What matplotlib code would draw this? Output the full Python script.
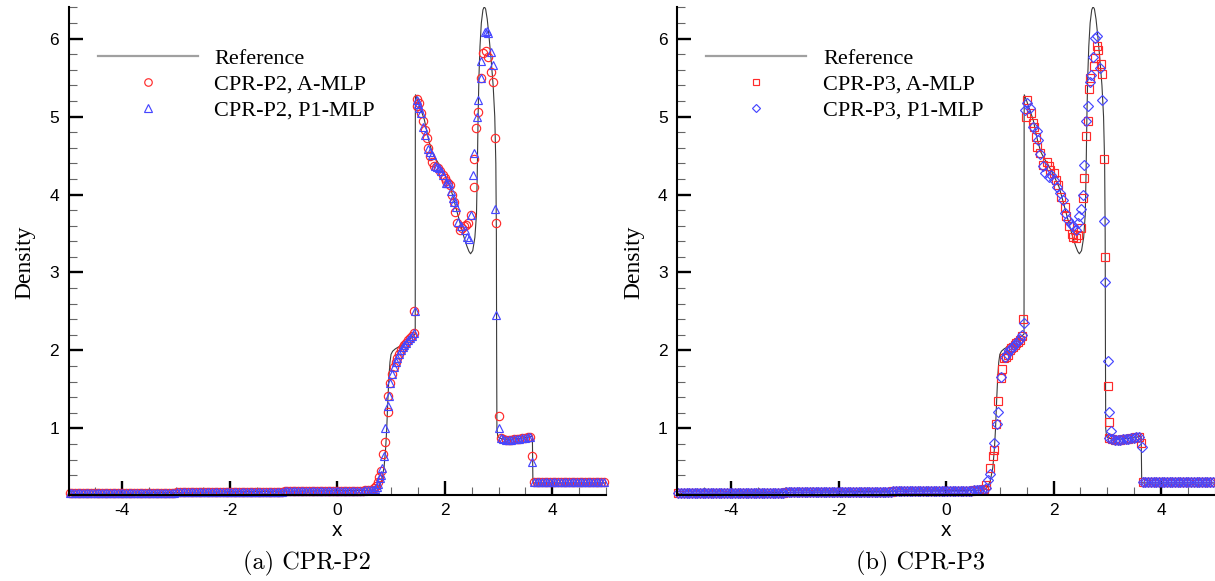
import numpy as np
import matplotlib.pyplot as plt
from matplotlib.lines import Line2D
from matplotlib.ticker import MultipleLocator

plt.rcParams['axes.unicode_minus'] = False

# reference solution (fine mesh)
ref_x = [-5.0, -4.0, -3.0, -2.0, -1.0, 0.0, 0.5, 0.62, 0.7, 0.76, 0.82, 0.87, 0.9, 0.92,
         0.94, 0.96, 0.98, 1.0, 1.03, 1.08, 1.2, 1.3, 1.4, 1.45, 1.452, 1.455, 1.5, 1.55,
         1.62, 1.7, 1.76, 1.82, 1.9, 2.0, 2.1, 2.15, 2.22, 2.29, 2.35, 2.41, 2.45, 2.48,
         2.52, 2.56, 2.59, 2.605, 2.62, 2.635, 2.655, 2.68, 2.71, 2.735, 2.76, 2.79, 2.82,
         2.86, 2.9, 2.93, 2.95, 2.96, 2.965, 2.97, 2.985, 3.02, 3.1, 3.2, 3.3, 3.4, 3.5,
         3.6, 3.63, 3.635, 3.64, 4.0, 5.0]
ref_rho = [0.165, 0.17, 0.178, 0.186, 0.194, 0.2, 0.205, 0.208, 0.215, 0.24, 0.32, 0.5, 0.75, 1.0,
           1.35, 1.65, 1.85, 1.95, 1.99, 2.02, 2.07, 2.12, 2.18, 2.21, 5.0, 5.28, 5.2, 5.1,
           4.96, 4.7, 4.55, 4.47, 4.38, 4.25, 4.1, 3.98, 3.8, 3.62, 3.47, 3.34, 3.27, 3.24,
           3.28, 3.45, 3.75, 4.3, 5.0, 5.5, 5.9, 6.2, 6.37, 6.41, 6.38, 6.25, 6.05,
           5.75, 5.4, 5.0, 4.4, 3.5, 2.0, 1.0, 0.9, 0.875, 0.862, 0.86, 0.865, 0.872, 0.88,
           0.895, 0.9, 0.6, 0.3, 0.3, 0.3]

# smooth parts where all runs sit on top of each other
left_x = [-4.98, -4.93, -4.88, -4.83, -4.78, -4.73, -4.68, -4.63, -4.58, -4.53,
          -4.48, -4.43, -4.38, -4.33, -4.28, -4.23, -4.18, -4.13, -4.08, -4.03,
          -3.98, -3.93, -3.88, -3.83, -3.78, -3.73, -3.68, -3.63, -3.58, -3.53,
          -3.48, -3.43, -3.38, -3.33, -3.28, -3.23, -3.18, -3.13, -3.08, -3.03,
          -2.98, -2.93, -2.88, -2.83, -2.78, -2.73, -2.68, -2.63, -2.58, -2.53,
          -2.48, -2.43, -2.38, -2.33, -2.28, -2.23, -2.18, -2.13, -2.08, -2.03,
          -1.98, -1.93, -1.88, -1.83, -1.78, -1.73, -1.68, -1.63, -1.58, -1.53,
          -1.48, -1.43, -1.38, -1.33, -1.28, -1.23, -1.18, -1.13, -1.08, -1.03,
          -0.98, -0.93, -0.88, -0.83, -0.78, -0.73, -0.68, -0.63, -0.58, -0.53,
          -0.48, -0.43, -0.38, -0.33, -0.28, -0.23, -0.18, -0.13, -0.08, -0.03,
          0.02, 0.07, 0.12, 0.17, 0.22, 0.27, 0.32, 0.37, 0.42, 0.47,
          0.52, 0.57, 0.62, 0.67]
left_rho = [0.165, 0.165, 0.165, 0.165, 0.165, 0.165, 0.165, 0.165, 0.165, 0.165,
            0.165, 0.165, 0.165, 0.165, 0.165, 0.165, 0.165, 0.165, 0.165, 0.165,
            0.17, 0.17, 0.17, 0.17, 0.17, 0.17, 0.17, 0.17, 0.17, 0.17,
            0.17, 0.17, 0.17, 0.17, 0.17, 0.17, 0.17, 0.17, 0.17, 0.17,
            0.18, 0.18, 0.18, 0.18, 0.18, 0.18, 0.18, 0.18, 0.18, 0.18,
            0.18, 0.18, 0.18, 0.18, 0.18, 0.18, 0.18, 0.18, 0.18, 0.18,
            0.185, 0.185, 0.185, 0.185, 0.185, 0.185, 0.185, 0.185, 0.185, 0.185,
            0.185, 0.185, 0.185, 0.185, 0.185, 0.185, 0.185, 0.185, 0.185, 0.185,
            0.19, 0.19, 0.19, 0.19, 0.19, 0.19, 0.19, 0.19, 0.19, 0.19,
            0.19, 0.19, 0.19, 0.19, 0.19, 0.19, 0.19, 0.19, 0.19, 0.19,
            0.2, 0.2, 0.2, 0.2, 0.2, 0.2, 0.2, 0.2, 0.2, 0.2,
            0.205, 0.205, 0.205, 0.205]
mid_x = [3.04, 3.09, 3.14, 3.19, 3.24, 3.29, 3.34, 3.39, 3.44, 3.49, 3.54, 3.59]
mid_rho = [0.87, 0.86, 0.855, 0.855, 0.855, 0.86, 0.86, 0.865, 0.87, 0.875, 0.885, 0.895]
right_x = [3.66, 3.71, 3.76, 3.81, 3.86, 3.91, 3.96, 4.01, 4.06, 4.11, 4.16, 4.21, 4.26, 4.31,
           4.36, 4.41, 4.46, 4.51, 4.56, 4.61, 4.66, 4.71, 4.76, 4.81, 4.86, 4.91, 4.96]
right_rho = [0.31, 0.31, 0.31, 0.31, 0.31, 0.31, 0.31, 0.31, 0.31, 0.31, 0.31, 0.31, 0.31, 0.31,
             0.31, 0.31, 0.31, 0.31, 0.31, 0.31, 0.31, 0.31, 0.31, 0.31, 0.31, 0.31, 0.31]

# CPR-P2, A-MLP
p2_amlp_x = [0.69, 0.72, 0.75, 0.78, 0.81, 0.85, 0.886, 0.94, 0.952, 0.985, 1.018, 1.05,
             1.085, 1.118, 1.15, 1.185, 1.22, 1.25, 1.285, 1.317, 1.35, 1.385, 1.418, 1.436,
             1.475, 1.487, 1.524, 1.56, 1.6, 1.63, 1.66, 1.69, 1.72, 1.76, 1.8, 1.84, 1.88,
             1.92, 1.97, 2.0, 2.03, 2.06, 2.095, 2.14, 2.165, 2.19, 2.23, 2.28, 2.32, 2.355,
             2.4, 2.44, 2.48, 2.545, 2.55, 2.59, 2.62, 2.67, 2.72, 2.77, 2.8, 2.86, 2.89,
             2.935, 2.955, 3.0, 3.626]
p2_amlp_rho = [0.23, 0.26, 0.31, 0.37, 0.45, 0.67, 0.83, 1.21, 1.41, 1.58, 1.7, 1.79,
               1.85, 1.9, 1.95, 2.0, 2.04, 2.07, 2.1, 2.13, 2.16, 2.19, 2.22, 2.51,
               5.13, 5.22, 5.18, 5.05, 4.94, 4.83, 4.72, 4.6, 4.49, 4.42, 4.36, 4.35, 4.34,
               4.3, 4.25, 4.21, 4.17, 4.15, 4.12, 4.0, 3.9, 3.78, 3.63, 3.55, 3.57, 3.59,
               3.61, 3.63, 3.74, 4.1, 4.45, 4.86, 5.06, 5.49, 5.81, 5.84, 5.76, 5.57, 5.44,
               4.72, 3.64, 1.16, 0.65]

# CPR-P2, P1-MLP
p2_p1_x = [0.7, 0.73, 0.76, 0.79, 0.806, 0.839, 0.865, 0.886, 0.94, 0.955, 0.985, 1.018,
           1.05, 1.085, 1.118, 1.15, 1.185, 1.22, 1.25, 1.285, 1.317, 1.35, 1.385, 1.418,
           1.44, 1.475, 1.5, 1.524, 1.55, 1.6, 1.64, 1.69, 1.72, 1.755, 1.815, 1.855, 1.896,
           1.93, 1.96, 2.02, 2.05, 2.08, 2.11, 2.145, 2.18, 2.21, 2.25, 2.31, 2.37, 2.42,
           2.45, 2.48, 2.53, 2.54, 2.6, 2.614, 2.666, 2.68, 2.746, 2.78, 2.81, 2.865, 2.893,
           2.932, 2.945, 3.0, 3.626]
p2_p1_rho = [0.22, 0.25, 0.29, 0.36, 0.4, 0.49, 0.65, 1.0, 1.29, 1.41, 1.58, 1.7,
             1.79, 1.85, 1.9, 1.95, 2.0, 2.04, 2.07, 2.1, 2.13, 2.16, 2.19, 2.22,
             2.51, 5.21, 5.16, 5.11, 5.05, 4.87, 4.77, 4.59, 4.55, 4.51, 4.37, 4.35, 4.34,
             4.3, 4.25, 4.15, 4.15, 4.15, 4.05, 3.95, 3.9, 3.84, 3.65, 3.6, 3.55, 3.46,
             3.43, 3.74, 4.25, 4.53, 5.0, 5.21, 5.49, 5.71, 6.09, 6.1, 6.07, 5.83, 5.66,
             3.81, 2.45, 1.0, 0.57]

# CPR-P3, A-MLP
p3_amlp_x = [0.7, 0.74, 0.816, 0.87, 0.883, 0.936, 0.962, 1.015, 1.048, 1.08, 1.115, 1.147,
             1.18, 1.215, 1.247, 1.28, 1.31, 1.345, 1.378, 1.41, 1.425,
             1.478, 1.51, 1.576, 1.61, 1.643, 1.676, 1.695, 1.74, 1.807, 1.874, 1.907, 1.94,
             2.005, 2.04, 2.085, 2.138, 2.204, 2.237, 2.283, 2.336, 2.37, 2.416, 2.457, 2.502,
             2.548, 2.568, 2.6, 2.635, 2.668, 2.68, 2.746, 2.766, 2.812, 2.833, 2.88, 2.9,
             2.93, 2.966, 3.01, 3.03, 3.62]
p3_amlp_rho = [0.22, 0.27, 0.49, 0.64, 0.72, 1.06, 1.35, 1.64, 1.76, 1.9, 1.92, 1.94,
               2.0, 2.03, 2.05, 2.07, 2.09, 2.11, 2.13, 2.18, 2.4,
               5.0, 5.21, 5.04, 4.92, 4.87, 4.74, 4.61, 4.53, 4.38, 4.42, 4.36, 4.32,
               4.27, 4.19, 4.12, 3.97, 3.84, 3.72, 3.59, 3.5, 3.45, 3.44, 3.48, 3.57,
               3.95, 4.21, 4.75, 4.94, 5.36, 5.49, 5.65, 5.75, 5.9, 5.86, 5.67, 5.55,
               4.45, 3.2, 1.54, 1.08, 0.81]

# CPR-P3, P1-MLP
p3_p1_x = [0.74, 0.78, 0.816, 0.895, 0.95, 0.97, 1.03, 1.09, 1.13, 1.17, 1.2, 1.24, 1.27,
           1.31, 1.34, 1.38, 1.415, 1.447,
           1.465, 1.51, 1.558, 1.623, 1.69, 1.71, 1.756, 1.807, 1.84, 1.907, 1.96, 2.005,
           2.06, 2.12, 2.17, 2.218, 2.27, 2.323, 2.357, 2.416, 2.457, 2.48, 2.502, 2.548,
           2.557, 2.6, 2.635, 2.68, 2.7, 2.732, 2.766, 2.812, 2.866, 2.9, 2.944, 2.966,
           3.01, 3.03, 3.065, 3.64]
p3_p1_rho = [0.24, 0.34, 0.41, 0.81, 1.06, 1.21, 1.66, 1.92, 1.96, 2.0, 2.02, 2.05, 2.07,
             2.1, 2.12, 2.15, 2.2, 2.35,
             5.09, 5.17, 5.11, 4.87, 4.81, 4.7, 4.52, 4.36, 4.28, 4.23, 4.25, 4.19,
             4.1, 4.02, 3.93, 3.76, 3.67, 3.62, 3.59, 3.55, 3.63, 3.73, 3.82, 3.99,
             4.38, 4.94, 5.13, 5.45, 5.54, 5.77, 6.01, 6.03, 5.62, 5.21, 3.66, 2.88,
             1.87, 1.21, 0.96, 0.76]

W, H = 1215, 581
RED = '#ff2a2a'
BLUE = '#4646ff'
serif = 'Liberation Serif'
sans = 'Liberation Sans'


def draw_panel(ax, runs, caption, cap_x):
    ax.plot(ref_x, ref_rho, color='#3a3a3a', lw=0.8, zorder=1)
    handles = [Line2D([], [], color='#a0a0a0', lw=1.6)]
    labels = ['Reference']
    for xs, rho, marker, color, ms, label in runs:
        x_all = left_x + xs + mid_x + right_x
        r_all = left_rho + rho + mid_rho + right_rho
        ax.plot(x_all, r_all, ls='none', marker=marker, mfc='none', mec=color,
                ms=ms, mew=0.85, clip_on=False, zorder=2)
        handles.append(Line2D([], [], ls='none', marker=marker, mfc='none', mec=color,
                              ms=ms * 0.9, mew=0.85))
        labels.append(label)

    ax.set_xlim(-5, 5)
    ax.set_ylim(0.145, 6.41)
    ax.xaxis.set_major_locator(MultipleLocator(2))
    ax.xaxis.set_minor_locator(MultipleLocator(0.5))
    ax.yaxis.set_major_locator(MultipleLocator(1))
    ax.yaxis.set_minor_locator(MultipleLocator(0.2))
    ax.tick_params(which='major', direction='in', length=10, width=1.7, labelsize=12.5)
    ax.tick_params(axis='y', which='major', pad=7)
    ax.tick_params(axis='x', which='major', pad=6)
    ax.tick_params(which='minor', direction='in', length=5.5, width=0.8, color='#666666')
    for lab in ax.get_xticklabels() + ax.get_yticklabels():
        lab.set_fontfamily(sans)
    for side in ['top', 'right']:
        ax.spines[side].set_visible(False)
    for side in ['left', 'bottom']:
        ax.spines[side].set_linewidth(1.5)

    ax.legend(handles, labels, loc='upper left', bbox_to_anchor=(0.054, 0.915),
              frameon=False, prop={'family': serif, 'size': 16}, handlelength=4.5,
              handletextpad=0.75, labelspacing=0.24, borderpad=0, borderaxespad=0)

    # axis titles and subfigure caption
    left = ax.get_position().x0 * W
    mid = (ax.get_position().x0 + ax.get_position().x1) / 2 * W
    fig.text((left - 44) / W, 1 - 262 / H, 'Density', rotation=90, ha='center',
             va='center', family=serif, size=17)
    fig.text(mid / W, 1 - 531 / H, 'x', ha='center', va='center', family=sans, size=15)
    fig.text(cap_x / W, 1 - 563 / H, caption, ha='center', va='center',
             family='cmr10', size=17.5)


fig = plt.figure(figsize=(W / 100, H / 100), dpi=100)
ax1 = fig.add_axes([68.6 / W, 86 / H, 537.4 / W, 488.3 / H])
ax2 = fig.add_axes([677.4 / W, 86 / H, 537.4 / W, 488.3 / H])

draw_panel(ax1, [(p2_amlp_x, p2_amlp_rho, 'o', RED, 6.0, 'CPR-P2, A-MLP'),
                 (p2_p1_x, p2_p1_rho, '^', BLUE, 6.0, 'CPR-P2, P1-MLP')],
           '(a) CPR-P2', 307)
draw_panel(ax2, [(p3_amlp_x, p3_amlp_rho, 's', RED, 5.2, 'CPR-P3, A-MLP'),
                 (p3_p1_x, p3_p1_rho, 'D', BLUE, 5.0, 'CPR-P3, P1-MLP')],
           '(b) CPR-P3', 921)

fig.savefig('out.png', dpi=100)
